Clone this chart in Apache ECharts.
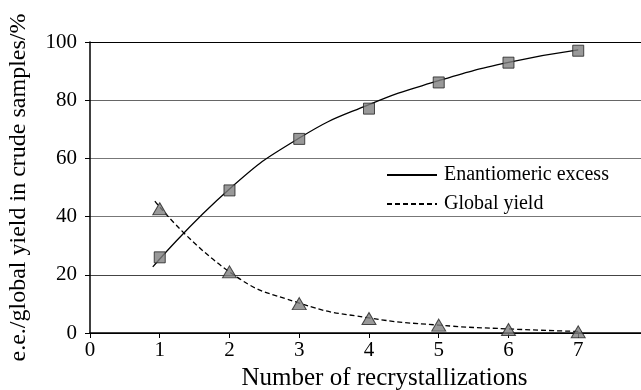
<!DOCTYPE html>
<html>
<head>
<meta charset="utf-8">
<script src="https://cdn.jsdelivr.net/npm/echarts@6/dist/echarts.min.js"></script>
<style>
html,body{margin:0;padding:0;background:#fff;}
#c{width:641px;height:390px;}
</style>
</head>
<body>
<div id="c"></div>
<script>
// Measured points
var recrystallizations = [1, 2, 3, 4, 5, 6, 7];
var eeValues = [26, 49, 66.7, 77.1, 86.1, 92.9, 97.0];
var yieldValues = [42.7, 21, 10.1, 5, 2.7, 1.2, 0.4];

// Trend curves
var eeCurveX = [0.9, 2, 3, 4, 5, 6, 7];
var eeCurveY = [22.7, 49.5, 67, 78.5, 86.7, 93, 97.3];
var yieldCurveX = [0.93, 2, 3, 4, 5, 6, 7.05];
var yieldCurveY = [45.3, 21, 10.3, 5.2, 2.7, 1.4, 0.5];

var xTicks = [0, 1, 2, 3, 4, 5, 6, 7];

var legendNames = ['Enantiomeric excess', 'Global yield'];
var xTitle = 'Number of recrystallizations';
var yTitle = 'e.e./global yield in crude samples/%';

function pairs(xs, ys) { return xs.map(function (x, i) { return [x, ys[i]]; }); }

var serif = '"Liberation Serif", "DejaVu Serif", serif';
var chart = echarts.init(document.getElementById('c'));
chart.setOption({
  animation: false,
  backgroundColor: '#fff',
  grid: { left: 90, right: 0, top: 42, bottom: 57, containLabel: false, outerBoundsMode: 'none' },
  legend: {
    data: legendNames,
    orient: 'vertical',
    left: 381,
    top: 160,
    itemWidth: 50,
    itemHeight: 10,
    itemGap: 9,
    itemStyle: { opacity: 0 },
    textStyle: { fontFamily: serif, fontSize: 20, color: '#000', padding: [0, 0, 0, 2] }
  },
  xAxis: {
    type: 'value',
    min: 0,
    max: 7.9,
    interval: 1,
    name: xTitle,
    nameLocation: 'middle',
    nameGap: 28,
    nameTextStyle: { fontFamily: serif, fontSize: 25, color: '#000', padding: [0, 0, 0, 38] },
    axisLine: { lineStyle: { color: '#000', width: 1.5 } },
    axisTick: { show: true, length: 5, lineStyle: { color: '#000' } },
    axisLabel: { fontFamily: serif, fontSize: 21, color: '#000', margin: 7,
      formatter: function (v) { return xTicks.indexOf(v) >= 0 ? String(v) : ''; } },
    splitLine: { show: false }
  },
  yAxis: {
    type: 'value',
    min: 0,
    max: 100,
    interval: 20,
    name: yTitle,
    nameLocation: 'middle',
    nameGap: 59,
    nameTextStyle: { fontFamily: serif, fontSize: 24, color: '#000' },
    axisLine: { show: true, lineStyle: { color: '#000', width: 1.5 } },
    axisTick: { show: true, length: 5, lineStyle: { color: '#000' } },
    axisLabel: { fontFamily: serif, fontSize: 21, color: '#000', margin: 13 },
    splitLine: { show: true, lineStyle: { color: ['#000', '#444', '#777', '#777', '#666', '#000'], width: 1.2 } }
  },
  series: [
    {
      name: legendNames[0],
      type: 'line',
      data: pairs(eeCurveX, eeCurveY),
      smooth: true,
      symbol: 'none',
      lineStyle: { color: '#000', width: 1.3, type: 'solid' },
      itemStyle: { color: '#000' },
      z: 2
    },
    {
      name: legendNames[1],
      type: 'line',
      data: pairs(yieldCurveX, yieldCurveY),
      smooth: true,
      symbol: 'none',
      lineStyle: { color: '#000', width: 1.3, type: [5, 3] },
      itemStyle: { color: '#000' },
      z: 2
    },
    {
      type: 'scatter',
      data: pairs(recrystallizations, eeValues),
      symbol: 'rect',
      symbolSize: 11,
      itemStyle: { color: '#808080', borderColor: '#222', borderWidth: 1 },
      z: 3
    },
    {
      type: 'scatter',
      data: pairs(recrystallizations, yieldValues),
      symbol: 'triangle',
      symbolSize: [14, 12],
      itemStyle: { color: '#808080', borderColor: '#222', borderWidth: 1 },
      z: 3
    }
  ]
});
</script>
</body>
</html>
